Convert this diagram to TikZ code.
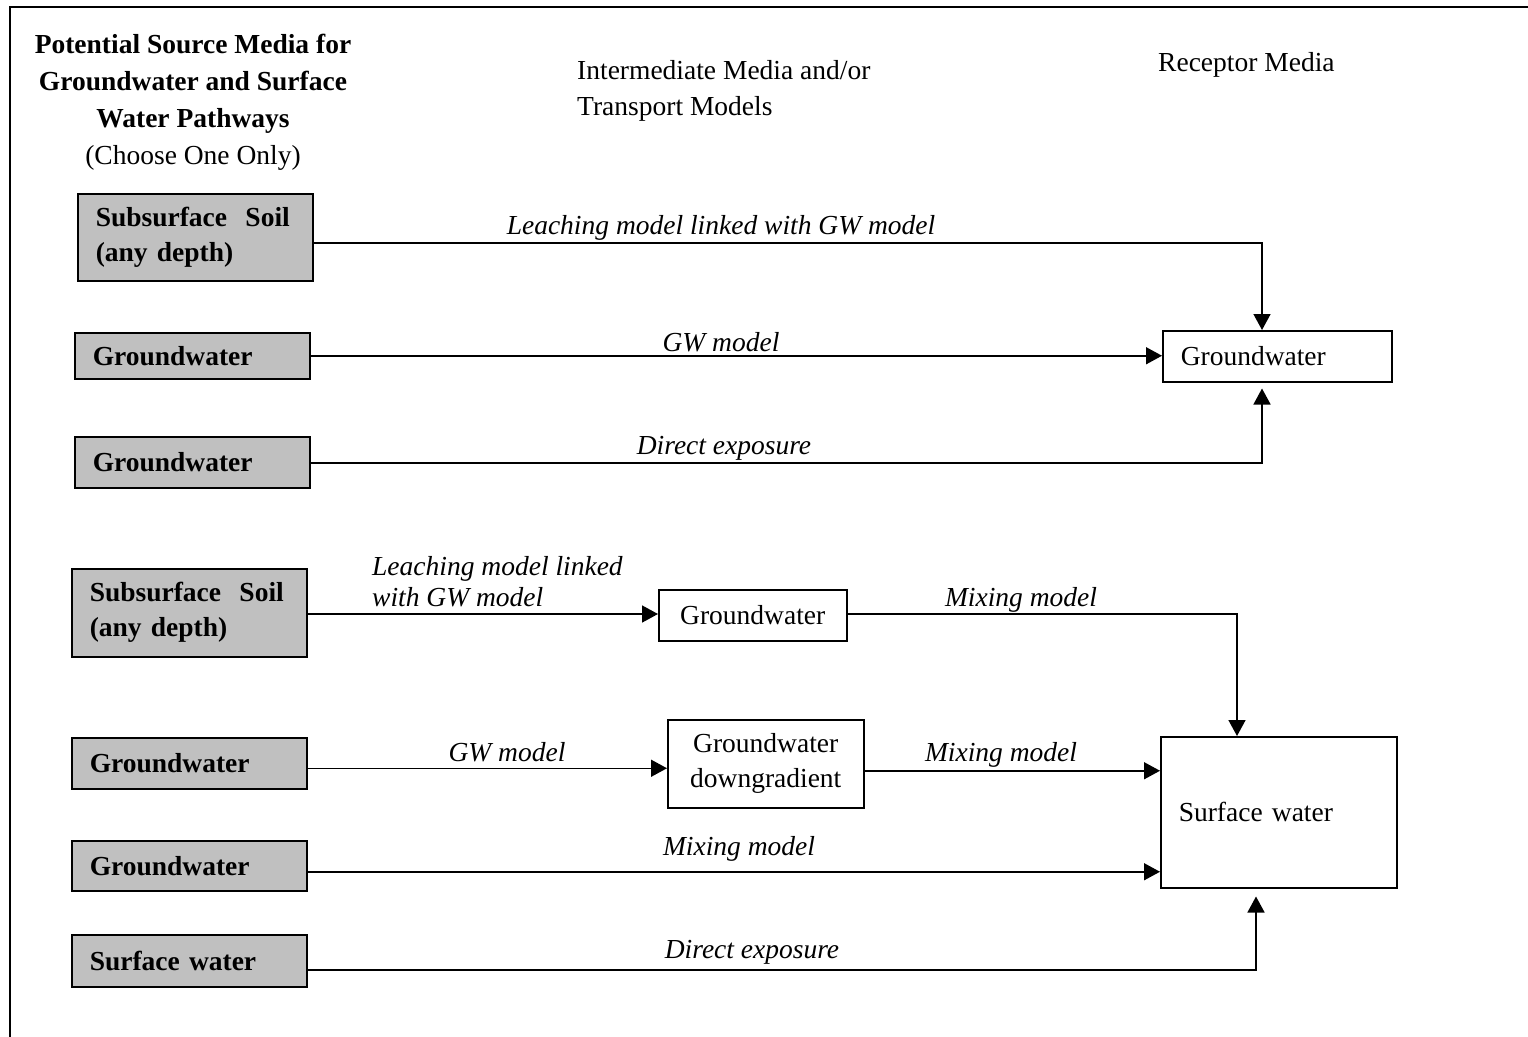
\documentclass[tikz,border=0pt]{standalone}
\usepackage{fontspec}
\setmainfont{Liberation Serif}
\usetikzlibrary{arrows.meta,calc}
\definecolor{srcgray}{HTML}{C0C0C0}
\begin{document}
\begin{tikzpicture}[x=1pt,y=-1pt,
  font=\fontsize{27.5}{35}\selectfont,
  src/.style={draw, line width=1.5pt, fill=srcgray, font=\fontsize{27.5}{35}\selectfont\bfseries,
    text width=199pt, inner xsep=18pt, inner ysep=0pt, align=left, minimum height=#1, anchor=north west},
  src/.default=51,
  rbox/.style={draw, line width=1.5pt, inner xsep=18pt, inner ysep=0pt, align=left, anchor=north west},
  ibox/.style={draw, line width=1.5pt, inner sep=0pt, align=center, anchor=north west},
  lab/.style={font=\fontsize{27.5}{31}\selectfont\itshape, inner sep=0pt},
  plain/.style={inner sep=0pt},
  conn/.style={line width=1.5pt},
  arr/.style={line width=1.5pt, -{Triangle[length=16pt,width=17pt]}}
]
\useasboundingbox (0,0) rectangle (1528,1036);
% frame
\draw[line width=2pt] (10,1045) -- (10,7) -- (1540,7);

% headings
\node[plain, align=center, font=\fontsize{27.5}{37}\selectfont] (title) at (193,102)
  {\textbf{Potential Source Media for}\\\textbf{Groundwater and Surface}\\\textbf{Water Pathways}\\(Choose One Only)};
\node[plain, align=left, anchor=west, font=\fontsize{27.5}{36}\selectfont] (mid) at (577,91)
  {Intermediate Media and/or\\Transport Models};
\node[plain, anchor=west] (rec) at (1158,65) {Receptor Media};

% source boxes
\node[src=87] (s1) at (77,193) {Subsurface\ \ Soil\\(any depth)};
\node[src=46] (s2) at (74,332) {Groundwater};
\node[src=51] (s3) at (74,436) {Groundwater};
\node[src=88] (s4) at (71,568) {Subsurface\ \ Soil\\(any depth)};
\node[src=51] (s5) at (71,737) {Groundwater};
\node[src=50] (s6) at (71,840) {Groundwater};
\node[src=52] (s7) at (71,934) {Surface water};

% receptor boxes
\node[rbox, text width=193pt, minimum height=51pt] (r1) at (1162,330) {Groundwater};
\node[rbox, text width=200pt, minimum height=151pt] (sw) at (1160,736) {Surface water};

% intermediate boxes
\node[ibox, minimum width=188pt, minimum height=51pt] (i1) at (658,589) {Groundwater};
\node[ibox, minimum width=196pt, minimum height=88pt] (i2) at (667,719) {Groundwater\\downgradient};

% corner coordinates
\coordinate (k1) at (1262,243);
\coordinate (k3) at (1262,463);
\coordinate (k4) at (1237,614);
\coordinate (k7) at (1256,970);

% connectors (upper)
\draw[arr] (s1.east |- k1) -- (k1) -- (k1 |- r1.north);
\draw[arr] (s2.east) -- (s2.east -| r1.west);
\draw[arr] (s3.east |- k3) -- (k3) -- ($(k3 |- r1.south)+(0,6)$);

% connectors (lower)
\draw[arr] (s4.east |- k4) -- (k4 -| i1.west);
\draw[arr] (i1.east |- k4) -- (k4) -- (k4 |- sw.north);
\draw[arr] ([yshift=-5pt]s5.east) -- ([yshift=-5pt]s5.east -| i2.west);
\draw[arr] ([yshift=-7pt]i2.east) -- ([yshift=-7pt]i2.east -| sw.west);
\draw[arr] ([yshift=-6pt]s6.east) -- ([yshift=-6pt]s6.east -| sw.west);
\draw[arr] (s7.east |- k7) -- (k7) -- ($(k7 |- sw.south)+(0,8)$);

% labels
\node[lab] (l1) at (721,228) {Leaching model linked with GW model};
\node[lab] (l2) at (721,342) {GW model};
\node[lab] (l3) at (724,448) {Direct exposure};
\node[lab, align=left, anchor=west] (l4) at (372,582) {Leaching model linked\\with GW model};
\node[lab] (l5) at (1021,600) {Mixing model};
\node[lab] (l6) at (507,752) {GW model};
\node[lab] (l7) at (1001,755) {Mixing model};
\node[lab] (l8) at (739,849) {Mixing model};
\node[lab] (l9) at (752,952) {Direct exposure};
\end{tikzpicture}
\end{document}
